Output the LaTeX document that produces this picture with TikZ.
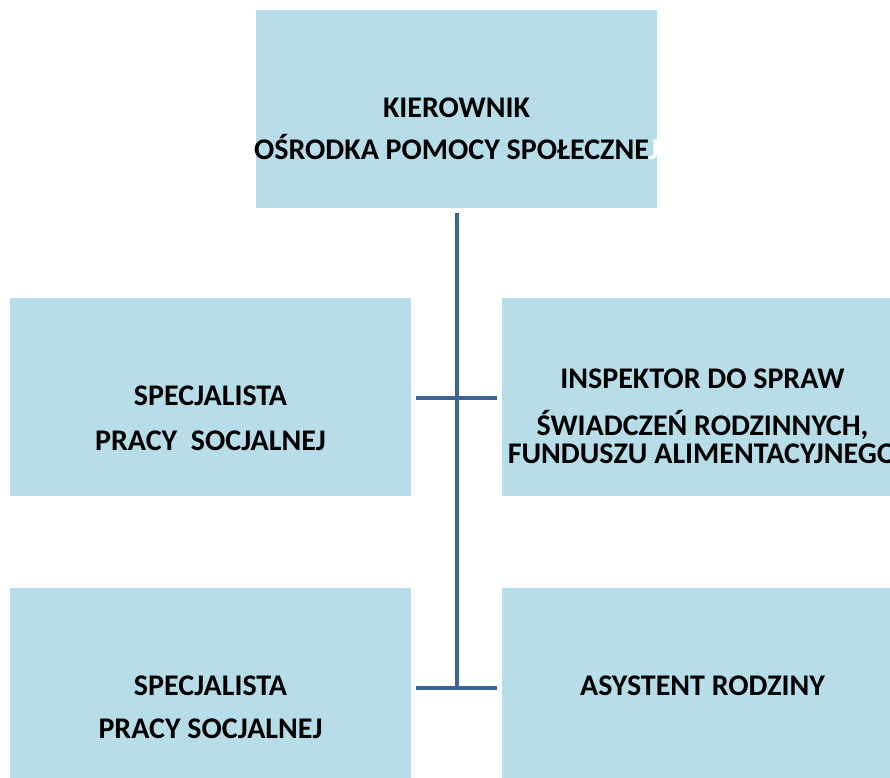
\documentclass[tikz,border=0pt]{standalone}
\usepackage{fontspec}
\setmainfont{Carlito}
\usepackage{tikz}
\usetikzlibrary{positioning}
\definecolor{pole}{HTML}{B7DDE8}
\definecolor{kreska}{HTML}{3C6494}
\tikzstyle{orgbox}=[rectangle, fill=pole, minimum width=300.75pt, minimum height=148.5pt, inner sep=0pt]
\tikzstyle{napis}=[anchor=base, inner sep=0pt, font=\fontsize{22.5}{27}\selectfont\bfseries]
\tikzstyle{linia}=[draw=kreska, line width=3pt]

\begin{document}
\begin{tikzpicture}[x=0.75pt,y=-0.75pt]
  \useasboundingbox (0,0) rectangle (890,778);
  \clip (0,0) rectangle (890,778);
  % boxes
  \node[orgbox] (kier) at (456.5,109) {};
  \node[orgbox] (spec1) at (210.5,397) {};
  \node[orgbox] (insp) at (702.5,397) {};
  \node[orgbox] (spec2) at (210.5,687) {};
  \node[orgbox] (asys) at (702.5,687) {};
  % texts
  \node[napis] (kier1) at (456.5,117) {KIEROWNIK};
  \node[napis] (kier2) at (456.5,159) {OŚRODKA POMOCY SPOŁECZNE\textcolor{white}{J}};
  \node[napis] (spec11) at (210.5,405) {SPECJALISTA};
  \node[napis] (spec12) at (210.5,450) {PRACY\ \ SOCJALNEJ};
  \node[napis] (insp1) at (702.5,388) {INSPEKTOR DO SPRAW};
  \node[napis] (insp2) at (702.5,435) {ŚWIADCZEŃ RODZINNYCH,};
  \node[napis] (insp3) at (702.5,463) {FUNDUSZU ALIMENTACYJNEGO};
  \node[napis] (spec21) at (210.5,695) {SPECJALISTA};
  \node[napis] (spec22) at (210.5,738) {PRACY SOCJALNEJ};
  \node[napis] (asys1) at (702.5,695) {ASYSTENT RODZINY};
  % connectors
  \coordinate (dol) at (456.5,688);
  \draw[linia, shorten <=3.75pt] (kier.south) -- (dol);
  \draw[linia, shorten <=3.75pt, shorten >=3.75pt] ([yshift=-0.75pt]spec1.east) -- ([yshift=-0.75pt]insp.west);
  \draw[linia, shorten <=3.75pt, shorten >=3.75pt] ([yshift=-0.75pt]spec2.east) -- ([yshift=-0.75pt]asys.west);
\end{tikzpicture}
\end{document}
